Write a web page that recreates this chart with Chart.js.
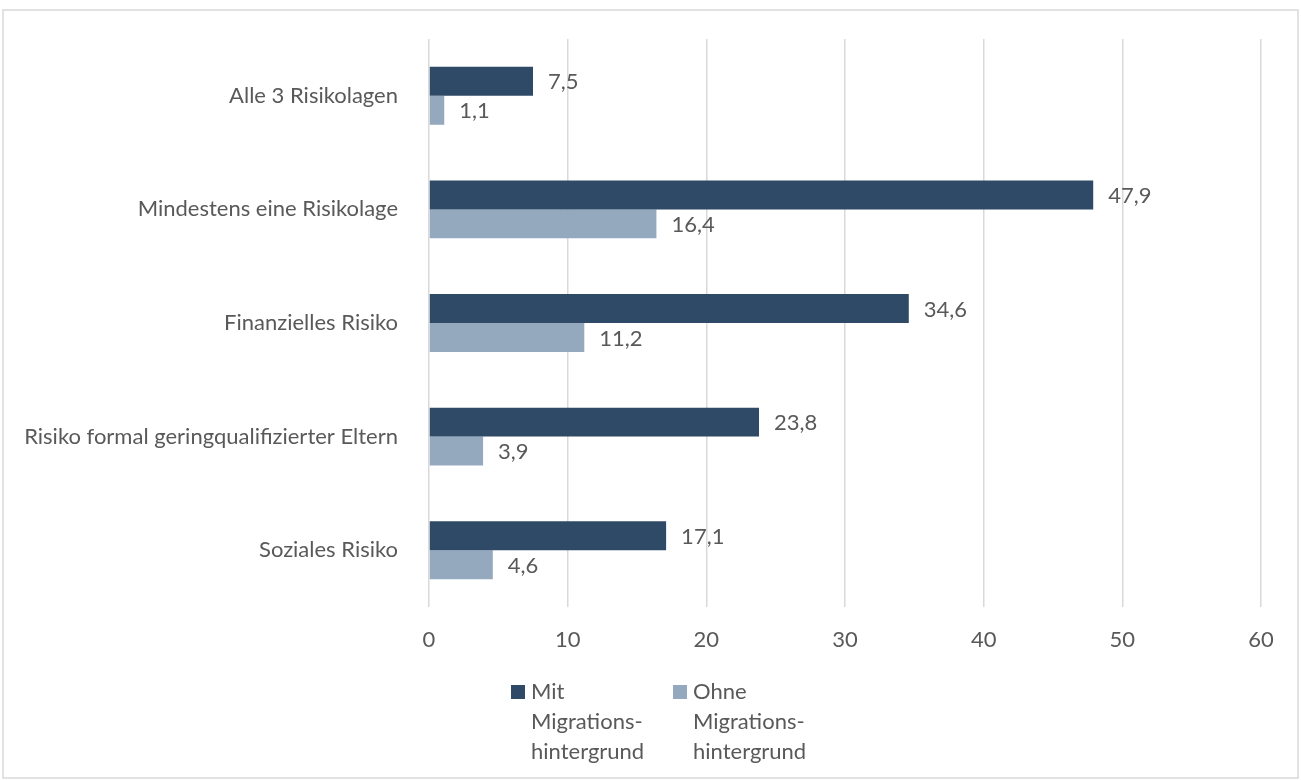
<!DOCTYPE html>
<html>
<head>
<meta charset="utf-8">
<script src="https://cdn.jsdelivr.net/npm/chart.js@4.4.1/dist/chart.umd.min.js"></script>
<style>
  html, body { margin: 0; padding: 0; background: #fff; }
  #wrap { position: relative; width: 1301px; height: 780px; }
</style>
</head>
<body>
<div id="wrap"><canvas id="chart" width="1301" height="780"></canvas></div>
<script>
const categories = [
    "Alle 3 Risikolagen",
    "Mindestens eine Risikolage",
    "Finanzielles Risiko",
    "Risiko formal geringqualifizierter Eltern",
    "Soziales Risiko"
];
const mitValues = [7.5, 47.9, 34.6, 23.8, 17.1];
const ohneValues = [1.1, 16.4, 11.2, 3.9, 4.6];
const seriesNames = [["Mit", "Migrations-", "hintergrund"], ["Ohne", "Migrations-", "hintergrund"]];
const seriesColors = ["#2E4A66", "#94A9BE"];

const FONT = "Lato, 'Open Sans', sans-serif";
const TEXT = "#595959";

function fmt(v) {
    return v.toFixed(1).replace(".", ",");
}

// value labels right of each bar
const valueLabels = {
    id: "valueLabels",
    afterDatasetsDraw(chart) {
        const ctx = chart.ctx;
        ctx.save();
        ctx.font = "22px " + FONT;
        ctx.fillStyle = TEXT;
        ctx.textAlign = "left";
        ctx.textBaseline = "middle";
        chart.data.datasets.forEach((ds, i) => {
            chart.getDatasetMeta(i).data.forEach((bar, j) => {
                ctx.fillText(fmt(ds.data[j]), bar.x + 15, bar.y + 1);
            });
        });
        ctx.restore();
    }
};

// frame + legend with wrapped labels
const frameLegend = {
    id: "frameLegend",
    afterDraw(chart) {
        const ctx = chart.ctx;
        ctx.save();
        ctx.strokeStyle = "#d9d9d9";
        ctx.lineWidth = 1.5;
        ctx.strokeRect(3, 10, 1295, 768);

        ctx.font = "22px " + FONT;
        ctx.textBaseline = "alphabetic";
        const starts = [511, 673];
        seriesNames.forEach((lines, i) => {
            ctx.fillStyle = seriesColors[i];
            ctx.fillRect(starts[i], 685, 14, 14);
            ctx.fillStyle = TEXT;
            lines.forEach((line, k) => {
                ctx.fillText(line, starts[i] + 20, 699 + k * 30);
            });
        });
        ctx.restore();
    }
};

new Chart(document.getElementById("chart"), {
    type: "bar",
    data: {
        labels: categories,
        datasets: [
            { label: "Mit Migrationshintergrund", data: mitValues, backgroundColor: seriesColors[0] },
            { label: "Ohne Migrationshintergrund", data: ohneValues, backgroundColor: seriesColors[1] }
        ]
    },
    options: {
        indexAxis: "y",
        responsive: false,
        animation: false,
        layout: { padding: { left: 0, right: 40, top: 39, bottom: 133 } },
        plugins: {
            legend: { display: false },
            tooltip: { enabled: false }
        },
        datasets: {
            bar: { categoryPercentage: 0.51, barPercentage: 1.0 }
        },
        scales: {
            x: {
                min: 0,
                max: 60,
                ticks: { stepSize: 10, color: TEXT, font: { family: FONT, size: 22 }, padding: 20 },
                grid: { color: "#d9d9d9", lineWidth: 1.5, drawTicks: false },
                border: { display: false },
                afterFit(s) { s.height = 40; s.paddingLeft = 0; s.paddingRight = 0; }
            },
            y: {
                ticks: { color: TEXT, font: { family: FONT, size: 22 }, padding: 31 },
                grid: { display: false, drawTicks: false },
                border: { display: false },
                afterFit(s) { s.width = 429; s.paddingTop = 0; s.paddingBottom = 0; }
            }
        }
    },
    plugins: [valueLabels, frameLegend]
});
</script>
</body>
</html>
